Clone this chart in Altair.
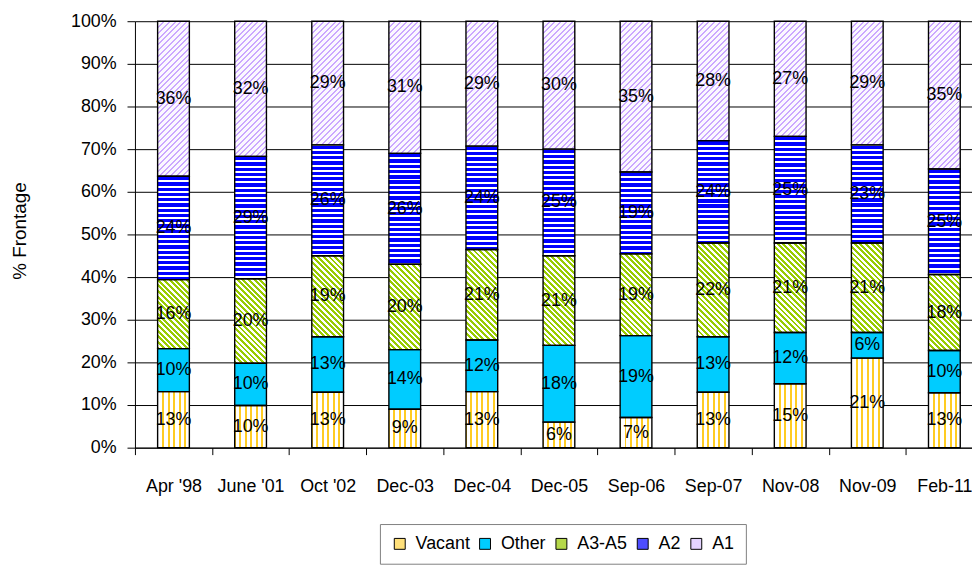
import altair as alt
import pandas as pd

dates = ["Apr '98", "June '01", "Oct '02", "Dec-03", "Dec-04", "Dec-05",
         "Sep-06", "Sep-07", "Nov-08", "Nov-09", "Feb-11"]
categories = ["Vacant", "Other", "A3-A5", "A2", "A1"]
vacant = [13, 10, 13, 9, 13, 6, 7, 13, 15, 21, 13]
other = [10, 10, 13, 14, 12, 18, 19, 13, 12, 6, 10]
a3a5 = [16, 20, 19, 20, 21, 21, 19, 22, 21, 21, 18]
a2 = [24, 29, 26, 26, 24, 25, 19, 24, 25, 23, 25]
a1 = [36, 32, 29, 31, 29, 30, 35, 28, 27, 29, 35]
series = {"Vacant": vacant, "Other": other, "A3-A5": a3a5, "A2": a2, "A1": a1}

rows = []
for i, d in enumerate(dates):
    for j, c in enumerate(categories):
        rows.append({"date": d, "cat": c, "order": j, "value": series[c][i]})
df = pd.DataFrame(rows)

FONT = "Liberation Sans, Arial, sans-serif"
FS = 18
PLOT_W = 844
PLOT_H = 430
RANGE_W = 855
BAR_W = 32

legend_colors = ["#FFE07A", "#00CCFF", "#B5D84A", "#4D4DFF", "#E4D3FF"]


def stripe_stops(length, period, width, phase, on, off):
    pts = [(0.0, off)]
    s = phase % period - period
    while s < length:
        a = max(s, 0.0)
        b = min(s + width, length)
        if b > a:
            pts += [(a / length, off), (a / length, on), (b / length, on), (b / length, off)]
        s += period
    pts.append((1.0, off))
    return [alt.GradientStop(offset=round(o, 5), color=c) for o, c in pts]


X = alt.X("date:N", sort=dates, title=None,
          scale=alt.Scale(range=[0, RANGE_W], paddingInner=0, paddingOuter=0),
          axis=alt.Axis(tickBand="extent", tickSize=7, tickColor="black",
                        domainColor="black", labelAngle=0, labelPadding=23,
                        labelFont=FONT, labelFontSize=FS, labelColor="black",
                        grid=False))
Y = alt.Y("y0:Q", stack=None, scale=alt.Scale(domain=[0, 1]),
          axis=alt.Axis(values=[round(k / 10, 1) for k in range(11)], format=".0%",
                        grid=True, gridColor="black", gridOpacity=1, gridWidth=1,
                        domainColor="black", tickColor="black", tickSize=8,
                        labelPadding=11, labelFont=FONT, labelFontSize=FS,
                        labelColor="black", title="% Frontage", titleFont=FONT,
                        titleFontSize=19, titleFontWeight="normal", titleAngle=270,
                        titleX=-116, titleY=211, titleAlign="center",
                        titleBaseline="middle", titleColor="black"))
Y2 = alt.Y2("y1:Q")

base = alt.Chart().mark_bar(size=BAR_W).encode(
    x=X, y=Y, y2=Y2,
    color=alt.Color("cat:N", scale=alt.Scale(domain=categories, range=legend_colors),
                    legend=alt.Legend(orient="none", legendX=247, legendY=507,
                                      direction="horizontal", columns=5, title=None,
                                      labelFont=FONT, labelFontSize=FS,
                                      labelColor="black", symbolType="square",
                                      symbolSize=121, symbolStrokeColor="black",
                                      symbolStrokeWidth=1, symbolOpacity=1,
                                      strokeColor="#808080", fillColor="white",
                                      padding=11, columnPadding=6, labelOffset=7)))

layers = [base]

# Vacant: vertical gold stripes
vac_grad = alt.LinearGradient(gradient="linear",
                              stops=stripe_stops(BAR_W, 5.6, 2.0, 4.4, "#FFCC22", "#FFFFFF"),
                              x1=0, y1=0, x2=1, y2=0)
layers.append(alt.Chart().mark_bar(size=BAR_W, fill=vac_grad).encode(x=X, y=Y, y2=Y2)
              .transform_filter(alt.datum.cat == "Vacant"))

for i, d in enumerate(dates):
    total = sum(series[c][i] for c in categories)
    w = float(BAR_W)
    # A2 horizontal stripes
    h = series["A2"][i] / total * PLOT_H
    g = alt.LinearGradient(gradient="linear",
                           stops=stripe_stops(h, 5.3, 3.3, 0.8, "#0000FF", "#FFFFFF"),
                           x1=0, y1=0, x2=0, y2=1)
    layers.append(alt.Chart().mark_bar(size=BAR_W, fill=g).encode(x=X, y=Y, y2=Y2)
                  .transform_filter((alt.datum.cat == "A2") & (alt.datum.date == d)))
    # A3-A5 diagonal "\" stripes
    h = series["A3-A5"][i] / total * PLOT_H
    L = w + h
    s = L / (w * w + h * h)
    g = alt.LinearGradient(gradient="linear",
                           stops=stripe_stops(L, 5.7, 2.9, 0.0, "#99CC00", "#FFFFFF"),
                           x1=0, y1=1, x2=round(s * w, 5), y2=round(1 - s * h, 5))
    layers.append(alt.Chart().mark_bar(size=BAR_W, fill=g).encode(x=X, y=Y, y2=Y2)
                  .transform_filter((alt.datum.cat == "A3-A5") & (alt.datum.date == d)))
    # A1 diagonal "/" stripes
    h = series["A1"][i] / total * PLOT_H
    L = w + h
    s = L / (w * w + h * h)
    g = alt.LinearGradient(gradient="linear",
                           stops=stripe_stops(L, 5.8, 2.0, 0.0, "#CBA8FF", "#FBF8FF"),
                           x1=0, y1=0, x2=round(s * w, 5), y2=round(s * h, 5))
    layers.append(alt.Chart().mark_bar(size=BAR_W, fill=g).encode(x=X, y=Y, y2=Y2)
                  .transform_filter((alt.datum.cat == "A1") & (alt.datum.date == d)))

outline = alt.Chart().mark_bar(size=BAR_W, fillOpacity=0, stroke="black",
                               strokeWidth=1.4).encode(x=X, y=Y, y2=Y2)
layers.append(outline)

text = alt.Chart().mark_text(font=FONT, fontSize=FS, color="black",
                             baseline="middle", align="center").encode(
    x=X, y=alt.Y("mid:Q", stack=None), text="label:N"
).transform_calculate(mid="(datum.y0 + datum.y1) / 2", label="datum.value + '%'")
layers.append(text)

chart = alt.layer(*layers, data=df).transform_stack(
    stack="value", groupby=["date"], as_=["y0", "y1"], offset="normalize",
    sort=[alt.SortField(field="order", order="ascending")]
).properties(
    width=PLOT_W, height=PLOT_H,
    autosize=alt.AutoSizeParams(type="none"),
    padding={"left": 128, "top": 11, "right": 0, "bottom": 118},
).configure_view(stroke=None)

chart.save("out.html", embed_options={"renderer": "svg", "actions": False})
